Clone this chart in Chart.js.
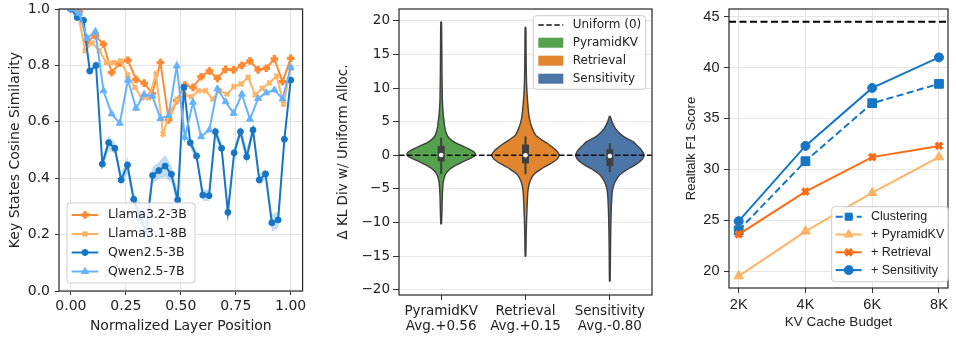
<!DOCTYPE html>
<html>
<head>
<meta charset="utf-8">
<script src="https://cdn.jsdelivr.net/npm/chart.js@4"></script>
<style>
body{margin:0;background:#fff;width:956px;height:339px;position:relative;overflow:hidden}
canvas{position:absolute;top:0}
</style>
</head>
<body>
<canvas id="c1" width="310" height="339" style="left:0"></canvas>
<canvas id="c2" width="340" height="339" style="left:320px"></canvas>
<canvas id="c3" width="296" height="339" style="left:660px"></canvas>
<script>
// ---- panel 1: key states cosine similarity per layer
let modelNames=['Llama3.2-3B','Llama3.1-8B','Qwen2.5-3B','Qwen2.5-7B']
let simLlama32=[1.0,0.99,0.885,0.905,0.875,0.775,0.808,0.818,0.75,0.737,0.70,0.81,0.607,0.675,0.73,0.722,0.76,0.78,0.754,0.786,0.784,0.80,0.816,0.784,0.79,0.823,0.742,0.825]
let simLlama31=[1.0,0.985,0.852,0.88,0.852,0.81,0.81,0.816,0.766,0.722,0.685,0.685,0.77,0.557,0.636,0.677,0.695,0.689,0.71,0.71,0.681,0.71,0.698,0.725,0.734,0.758,0.695,0.719,0.738,0.762,0.663,0.79]
let simQwen3=[1.0,0.97,0.96,0.78,0.80,0.45,0.526,0.506,0.394,0.447,0.325,0.26,0.21,0.41,0.427,0.443,0.414,0.323,0.722,0.526,0.479,0.34,0.338,0.565,0.506,0.279,0.49,0.565,0.476,0.571,0.394,0.415,0.242,0.252,0.538,0.748]
let bandQwen3=[0,0.005,0.01,0.01,0.01,0.02,0.025,0.02,0.02,0.03,0.02,0.05,0.06,0.03,0.03,0.04,0.03,0.03,0.02,0.02,0.02,0.02,0.02,0.02,0.02,0.03,0.02,0.02,0.03,0.02,0.02,0.02,0.03,0.03,0.02,0.02]
let simQwen7=[1.0,0.985,0.896,0.92,0.71,0.628,0.595,0.748,0.648,0.697,0.691,0.612,0.622,0.798,0.545,0.669,0.547,0.571,0.717,0.671,0.63,0.698,0.609,0.683,0.703,0.713,0.681,0.793]
let xTicks1=[0,0.25,0.5,0.75,1]
let yTicks1=[0,0.2,0.4,0.6,0.8,1]

// ---- panel 2: violins of KL divergence change
let methods=['PyramidKV','Retrieval','Sensitivity']
let methodAvg=['Avg.+0.56','Avg.+0.15','Avg.-0.80']
let kdeYPyr=[-10.2,-8,-6,-5,-4,-3,-2.5,-2,-1.5,-1,-0.5,0,0.5,1,1.5,2,2.5,3,4,5,6,8,10,12,15,19.8]
let kdeWPyr=[0.004,0.01,0.014,0.018,0.025,0.045,0.07,0.11,0.17,0.25,0.34,0.405,0.39,0.32,0.23,0.15,0.1,0.07,0.045,0.035,0.025,0.015,0.012,0.01,0.008,0.004]
let kdeYRet=[-15,-12,-10,-8,-6,-5,-4,-3,-2.5,-2,-1.5,-1,-0.5,0,0.5,1,1.5,2,2.5,3,4,5,6,8,10,12,15,19]
let kdeWRet=[0.004,0.008,0.012,0.018,0.025,0.032,0.05,0.09,0.13,0.19,0.26,0.33,0.38,0.40,0.38,0.34,0.29,0.23,0.17,0.12,0.08,0.055,0.04,0.025,0.015,0.01,0.007,0.004]
let kdeYSen=[-18.7,-15,-12,-10,-8,-6,-5,-4,-3,-2.5,-2,-1.5,-1,-0.5,0,0.5,1,1.5,2,2.5,3,4,5,5.8]
let kdeWSen=[0.004,0.007,0.01,0.013,0.017,0.025,0.035,0.06,0.11,0.16,0.22,0.29,0.35,0.39,0.405,0.39,0.36,0.32,0.28,0.2,0.14,0.065,0.025,0.004]
let boxQ1=[-0.9,-1.2,-1.6]
let boxQ3=[1.4,1.6,0.9]
let whiskLo=[-2.8,-2.8,-2.5]
let whiskHi=[2.6,2.8,1.8]
let medians=[0.05,0.0,-0.1]
let yTicks2=[-20,-15,-10,-5,0,5,10,15,20]

// ---- panel 3: F1 vs budget
let budgets=[2,4,6,8]
let seriesNames3=['Clustering','+ PyramidKV','+ Retrieval','+ Sensitivity']
let f1Clustering=[24.0,30.8,36.5,38.4]
let f1Pyramid=[19.5,23.9,27.7,31.2]
let f1Retrieval=[23.6,27.8,31.2,32.3]
let f1Sensitivity=[24.9,32.3,38.0,41.0]
let f1Full=44.5
let yTicks3=[20,25,30,35,40,45]

let blue='#1775c6',lightBlue='#66b2ff',orange='#ff8a33',lightOrange='#ffb366',redOrange='#ff6a14'
let vColors=['#56a14e','#e1852e','#4c75a8']
let dv='DejaVu Sans',lib='Liberation Sans'

function fixBox(w,h){
return s=>{
if(w!=null) s.width=w
if(h!=null) s.height=h
s.paddingLeft=0;s.paddingRight=0;s.paddingTop=0;s.paddingBottom=0
}
}

function setTicks(arr){return s=>{s.ticks=arr.map(v=>({value:v}))}}

let frame={id:'frame',afterDatasetsDraw(ch){
let a=ch.chartArea,ctx=ch.ctx
ctx.save()
ctx.strokeStyle='#262626'
ctx.lineWidth=1.2
ctx.strokeRect(a.left,a.top,a.right-a.left,a.bottom-a.top)
ctx.restore()
}}

function legend(cfg){
return {id:'lg',afterDraw(ch){
let ctx=ch.ctx
ctx.save()
ctx.beginPath()
ctx.roundRect(cfg.box[0],cfg.box[1],cfg.box[2]-cfg.box[0],cfg.box[3]-cfg.box[1],3)
ctx.fillStyle='rgba(255,255,255,0.85)'
ctx.fill()
ctx.strokeStyle='#cccccc'
ctx.lineWidth=1
ctx.stroke()
cfg.items.forEach((it,i)=>{
let y=cfg.rows[i]
if(it.patch){
ctx.fillStyle=it.color
ctx.fillRect(cfg.x0,y-5,cfg.x1-cfg.x0,10)
}else{
ctx.strokeStyle=it.color
ctx.lineWidth=it.lw
ctx.setLineDash(it.dash||[])
ctx.beginPath();ctx.moveTo(cfg.x0,y);ctx.lineTo(cfg.x1,y);ctx.stroke()
ctx.setLineDash([])
if(it.marker){
ctx.fillStyle=it.color
ctx.lineWidth=it.mbw
Chart.helpers.drawPoint(ctx,{pointStyle:it.marker,radius:it.r,borderWidth:it.mbw,rotation:0},(cfg.x0+cfg.x1)/2,y)
}
}
ctx.fillStyle='#222'
ctx.font=cfg.font
ctx.textBaseline='middle'
ctx.textAlign='left'
ctx.fillText(it.label,cfg.tx,y)
})
ctx.restore()
}}
}

function layerPts(arr){return arr.map((v,i)=>({x:i/(arr.length-1),y:v}))}

// ================= panel 1
let p1Styles=[
{color:orange,marker:'cross',r:3.8,mbw:3.4},
{color:lightOrange,marker:'crossRot',r:3.2,mbw:2.6},
{color:blue,marker:'circle',r:3,mbw:1},
{color:lightBlue,marker:'triangle',r:4,mbw:1}
]
let p1Data=[simLlama32,simLlama31,simQwen3,simQwen7]

function lineSet(i,order){
let st=p1Styles[i]
return {label:modelNames[i],data:layerPts(p1Data[i]),borderColor:st.color,backgroundColor:st.color,borderWidth:2,
pointStyle:st.marker,pointRadius:st.r,pointBorderWidth:st.mbw,pointBackgroundColor:st.color,pointBorderColor:st.color,fill:false,order:order}
}

new Chart(document.getElementById('c1'),{
type:'line',
data:{datasets:[
lineSet(0,6),
lineSet(1,5),
{label:'band hi',data:layerPts(simQwen3.map((v,i)=>v+bandQwen3[i])),borderWidth:0,pointRadius:0,fill:'+1',backgroundColor:'rgba(70,155,230,0.35)',order:4},
{label:'band lo',data:layerPts(simQwen3.map((v,i)=>v-bandQwen3[i])),borderWidth:0,pointRadius:0,fill:false,order:4},
lineSet(2,3),
lineSet(3,2)
]},
options:{
responsive:false,animation:false,events:[],
layout:{padding:{left:0,top:9,right:6,bottom:0}},
plugins:{legend:{display:false},tooltip:{enabled:false}},
scales:{
x:{type:'linear',min:-0.0543,max:1.0543,afterBuildTicks:setTicks(xTicks1),afterFit:fixBox(null,48),
ticks:{callback:v=>v.toFixed(2),font:{family:dv,size:14},color:'#222',padding:3,maxRotation:0,autoSkip:false},
grid:{color:'#e3e3e3',tickColor:'#333',tickLength:4},border:{display:false},
title:{display:true,text:'Normalized Layer Position',font:{family:dv,size:14},color:'#222',padding:{top:0,bottom:4}}},
y:{min:0,max:1,afterBuildTicks:setTicks(yTicks1),afterFit:fixBox(59,null),
ticks:{callback:v=>v.toFixed(1),font:{family:dv,size:14},color:'#222',padding:5},
grid:{color:'#e3e3e3',tickColor:'#333',tickLength:4},border:{display:false},
title:{display:true,text:'Key States Cosine Similarity',font:{family:dv,size:14},color:'#222',padding:{top:6.6,bottom:0}}}
}
},
plugins:[frame,legend({box:[67,203,195,283],rows:[215,234,252.5,271.5],x0:71.7,x1:98.3,tx:108,font:'12.5px "DejaVu Sans"',
items:p1Styles.map((st,i)=>({label:modelNames[i],color:st.color,lw:2,marker:st.marker,r:st.r,mbw:st.mbw}))})]
})

// ================= panel 2
function violinPoly(c,ys,ws){
let pts=[]
for(let i=0;i<ys.length;i++) pts.push({x:c+ws[i],y:ys[i]})
for(let i=ys.length-1;i>=0;i--) pts.push({x:c-ws[i],y:ys[i]})
pts.push(pts[0])
return pts
}
let kdeY=[kdeYPyr,kdeYRet,kdeYSen]
let kdeW=[kdeWPyr,kdeWRet,kdeWSen]
let sets2=[]
methods.forEach((m,i)=>{
sets2.push({label:m,data:violinPoly(i,kdeY[i],kdeW[i]),borderColor:'#3f3f3f',borderWidth:1.4,backgroundColor:vColors[i],fill:'shape',tension:0.3,pointRadius:0,order:5})
sets2.push({label:m+' whisker',data:[{x:i,y:whiskLo[i]},{x:i,y:whiskHi[i]}],borderColor:'#3f3f3f',borderWidth:2,pointRadius:0,fill:false,order:3})
sets2.push({label:m+' box',data:[{x:i,y:boxQ1[i]},{x:i,y:boxQ3[i]}],borderColor:'#3f3f3f',borderWidth:7,borderCapStyle:'butt',pointRadius:0,fill:false,order:2})
sets2.push({label:m+' median',data:[{x:i,y:medians[i]}],showLine:false,pointRadius:2.3,pointBackgroundColor:'#fff',pointBorderWidth:0,order:1})
})
sets2.push({label:'Uniform (0)',data:[{x:-0.5,y:0},{x:2.5,y:0}],borderColor:'#111',borderWidth:1.5,borderDash:[5.5,2.5],pointRadius:0,fill:false,order:4})

new Chart(document.getElementById('c2'),{
type:'line',
data:{datasets:sets2},
options:{
responsive:false,animation:false,events:[],
layout:{padding:{left:0,top:9,right:8,bottom:0}},
plugins:{legend:{display:false},tooltip:{enabled:false}},
scales:{
x:{type:'linear',min:-0.5,max:2.5,afterBuildTicks:setTicks([0,1,2]),afterFit:fixBox(null,44),
ticks:{callback:v=>[methods[v],methodAvg[v]],font:{family:dv,size:13.5,lineHeight:1.11},color:'#222',padding:4,maxRotation:0,autoSkip:false},
grid:{drawOnChartArea:false,tickColor:'#333',tickLength:5},border:{display:false}},
y:{min:-20.76,max:21.74,afterBuildTicks:setTicks(yTicks2),afterFit:fixBox(79,null),
ticks:{callback:v=>v<0?'\u2212'+Math.abs(v):String(v),font:{family:dv,size:13.5},color:'#222',padding:3},
grid:{color:'#e6e6e6',tickColor:'#333',tickLength:6},border:{display:false},
title:{display:true,text:'\u0394 KL Div w/ Uniform Alloc.',font:{family:dv,size:13.5},color:'#222',padding:{top:14.9,bottom:0}}}
}
},
plugins:[frame,legend({box:[213.3,15.7,325.7,89.3],rows:[25,42.7,60.7,78.7],x0:218.3,x1:243.3,tx:252.7,font:'12px "DejaVu Sans"',
items:[{label:'Uniform (0)',color:'#111',lw:1.5,dash:[5.5,2.5]}].concat(methods.map((m,i)=>({label:m,color:vColors[i],patch:true})))})]
})

// ================= panel 3
let p3Styles=[
{color:blue,marker:'rect',r:6.2,mbw:1,dash:[7,3.5]},
{color:lightOrange,marker:'triangle',r:5.5,mbw:1},
{color:redOrange,marker:'crossRot',r:4.5,mbw:3.5},
{color:blue,marker:'circle',r:4.5,mbw:1}
]
let p3Data=[f1Clustering,f1Pyramid,f1Retrieval,f1Sensitivity]
let sets3=p3Data.map((arr,i)=>{
let st=p3Styles[i]
return {label:seriesNames3[i],data:arr.map((v,j)=>({x:budgets[j],y:v})),borderColor:st.color,backgroundColor:st.color,borderWidth:2,borderDash:st.dash||[],
pointStyle:st.marker,pointRadius:st.r,pointBorderWidth:st.mbw,pointBackgroundColor:st.color,pointBorderColor:st.color,fill:false,order:4-i}
})
sets3.push({label:'Full',data:[{x:1.71,y:f1Full},{x:8.27,y:f1Full}],borderColor:'#000',borderWidth:2,borderDash:[7,3.5],pointRadius:0,fill:false,order:5})

new Chart(document.getElementById('c3'),{
type:'line',
data:{datasets:sets3},
options:{
responsive:false,animation:false,events:[],
layout:{padding:{left:0,top:9,right:1,bottom:0}},
plugins:{legend:{display:false},tooltip:{enabled:false}},
scales:{
x:{type:'linear',min:1.71,max:8.27,afterBuildTicks:setTicks(budgets),afterFit:fixBox(null,51),
ticks:{callback:v=>v+'K',font:{family:lib,size:14.5},color:'#222',padding:3,maxRotation:0,autoSkip:false},
grid:{color:'#e6e6e6',tickColor:'#333',tickLength:5},border:{display:false},
title:{display:true,text:'KV Cache Budget',font:{family:lib,size:13.5},color:'#222',padding:{top:0,bottom:8.5}}},
y:{min:18.33,max:45.76,afterBuildTicks:setTicks(yTicks3),afterFit:fixBox(69,null),
ticks:{font:{family:lib,size:14.5},color:'#222',padding:4.5},
grid:{color:'#e6e6e6',tickColor:'#333',tickLength:5},border:{display:false},
title:{display:true,text:'Realtalk F1 Score',font:{family:lib,size:13},color:'#222',padding:{top:23.9,bottom:0}}}
}
},
plugins:[frame,legend({box:[171.7,206.7,288.3,281.7],rows:[216.7,234.5,252.3,270.1],x0:175.7,x1:201.7,tx:211,font:'12.5px "Liberation Sans"',
items:p3Styles.map((st,i)=>({label:seriesNames3[i],color:st.color,lw:2,dash:st.dash,marker:st.marker,r:Math.min(st.r,5),mbw:st.mbw}))})]
})
</script>
</body>
</html>
